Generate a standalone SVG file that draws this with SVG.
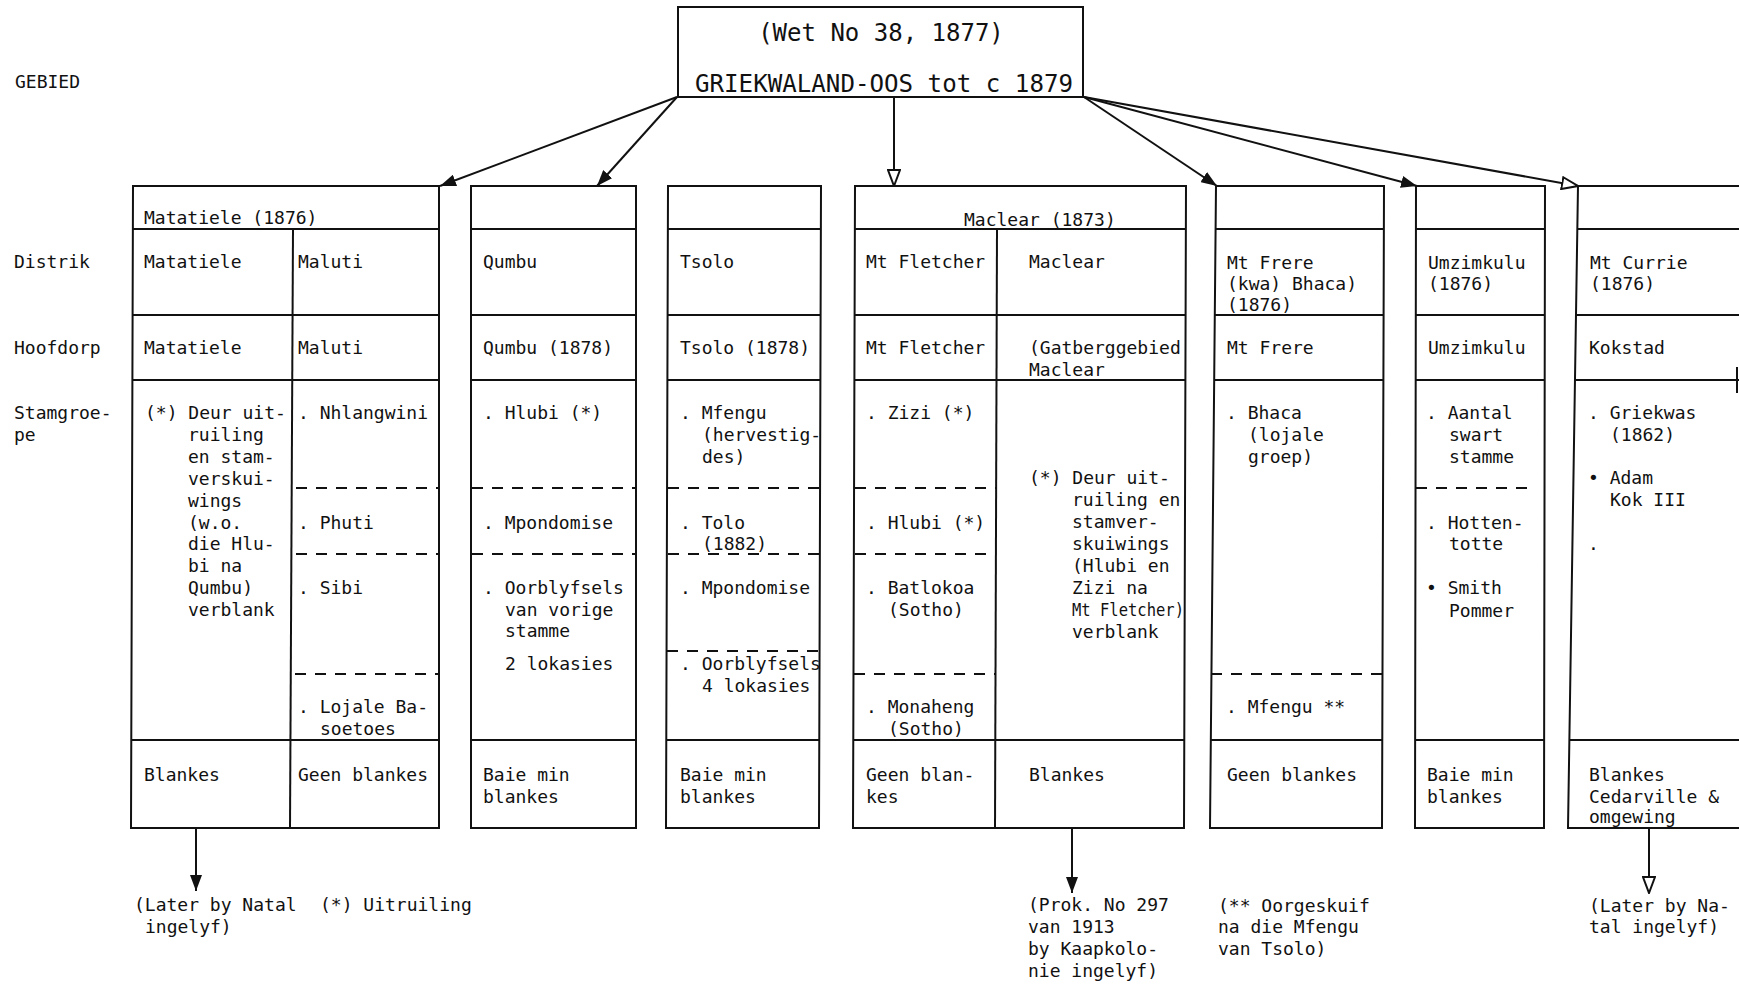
<svg xmlns="http://www.w3.org/2000/svg" width="1739" height="984" viewBox="0 0 1739 984">
<style>
  .t { font-family: "DejaVu Sans Mono", "Liberation Mono", monospace; font-size: 18px; fill: #111; }
  .big { font-size: 24px; }
  .frame { fill: none; stroke: #111; stroke-width: 2; }
  .rule { stroke: #111; stroke-width: 2; }
  .dash { stroke: #111; stroke-width: 2; stroke-dasharray: 11 9; }
  .conn { stroke: #111; stroke-width: 2; fill: none; }
  .solid { marker-end: url(#arrow-solid); }
  .open { marker-end: url(#arrow-open); }
</style>
<defs>
  <marker id="arrow-solid" viewBox="0 0 16 12" refX="16" refY="6" markerWidth="16" markerHeight="12" markerUnits="userSpaceOnUse" orient="auto">
    <path d="M0,0 L16,6 L0,12 Z" fill="#111"/>
  </marker>
  <marker id="arrow-open" viewBox="0 0 18 14" refX="17" refY="7" markerWidth="18" markerHeight="14" markerUnits="userSpaceOnUse" orient="auto">
    <path d="M1,1 L17,7 L1,13 Z" fill="#fff" stroke="#111" stroke-width="2"/>
  </marker>
</defs>
<rect width="1739" height="984" fill="#fff"/>

<!-- row captions -->
<g id="row-labels" class="t">
  <text x="15" y="88">GEBIED</text>
  <text x="14" y="268">Distrik</text>
  <text x="14" y="354">Hoofdorp</text>
  <text x="14" y="419">Stamgroe-</text>
  <text x="14" y="441">pe</text>
</g>

<!-- root area -->
<g id="node-griekwaland">
  <rect class="frame" x="678" y="7" width="405" height="90"/>
  <text class="t big" x="881" y="41" text-anchor="middle">(Wet No 38, 1877)</text>
  <text class="t big" x="695" y="92" textLength="378" lengthAdjust="spacingAndGlyphs">GRIEKWALAND-OOS tot c 1879</text>
</g>

<!-- Matatiele / Maluti -->
<g id="node-matatiele">
  <polygon class="frame" points="133,186 439,186 439,828 131,828"/>
  <line class="rule" x1="133" y1="229" x2="439" y2="229"/>
  <line class="rule" x1="133" y1="315" x2="439" y2="315"/>
  <line class="rule" x1="132" y1="380" x2="439" y2="380"/>
  <line class="rule" x1="131" y1="740" x2="439" y2="740"/>
  <line class="rule" x1="293" y1="229" x2="290" y2="828"/>
  <line class="dash" x1="296" y1="488" x2="439" y2="488"/>
  <line class="dash" x1="296" y1="554" x2="439" y2="554"/>
  <line class="dash" x1="295" y1="674" x2="439" y2="674"/>
  <g class="t">
    <text x="144" y="224">Matatiele (1876)</text>
    <text x="144" y="268">Matatiele</text>
    <text x="298" y="268">Maluti</text>
    <text x="144" y="354">Matatiele</text>
    <text x="298" y="354">Maluti</text>
    <text x="145" y="419">(*) Deur uit-</text>
    <text x="188" y="441">ruiling</text>
    <text x="188" y="463">en stam-</text>
    <text x="188" y="485">verskui-</text>
    <text x="188" y="507">wings</text>
    <text x="188" y="529">(w.o.</text>
    <text x="188" y="550">die Hlu-</text>
    <text x="188" y="572">bi na</text>
    <text x="188" y="594">Qumbu)</text>
    <text x="188" y="616">verblank</text>
    <text x="298" y="419">. Nhlangwini</text>
    <text x="298" y="529">. Phuti</text>
    <text x="298" y="594">. Sibi</text>
    <text x="298" y="713">. Lojale Ba-</text>
    <text x="320" y="735">soetoes</text>
    <text x="144" y="781">Blankes</text>
    <text x="298" y="781">Geen blankes</text>
  </g>
</g>

<!-- Qumbu -->
<g id="node-qumbu">
  <polygon class="frame" points="471,186 636,186 636,828 471,828"/>
  <line class="rule" x1="471" y1="229" x2="636" y2="229"/>
  <line class="rule" x1="471" y1="315" x2="636" y2="315"/>
  <line class="rule" x1="471" y1="380" x2="636" y2="380"/>
  <line class="rule" x1="471" y1="740" x2="636" y2="740"/>
  <line class="dash" x1="472" y1="488" x2="636" y2="488"/>
  <line class="dash" x1="472" y1="554" x2="636" y2="554"/>
  <g class="t">
    <text x="483" y="268">Qumbu</text>
    <text x="483" y="354">Qumbu (1878)</text>
    <text x="483" y="419">. Hlubi (*)</text>
    <text x="483" y="529">. Mpondomise</text>
    <text x="483" y="594">. Oorblyfsels</text>
    <text x="505" y="616">van vorige</text>
    <text x="505" y="637">stamme</text>
    <text x="505" y="670">2 lokasies</text>
    <text x="483" y="781">Baie min</text>
    <text x="483" y="803">blankes</text>
  </g>
</g>

<!-- Tsolo -->
<g id="node-tsolo">
  <polygon class="frame" points="668,186 821,186 819,828 666,828"/>
  <line class="rule" x1="668" y1="229" x2="821" y2="229"/>
  <line class="rule" x1="667" y1="315" x2="821" y2="315"/>
  <line class="rule" x1="667" y1="380" x2="820" y2="380"/>
  <line class="rule" x1="666" y1="740" x2="819" y2="740"/>
  <line class="dash" x1="668" y1="488" x2="820" y2="488"/>
  <line class="dash" x1="668" y1="554" x2="820" y2="554"/>
  <line class="dash" x1="667" y1="651" x2="820" y2="651"/>
  <g class="t">
    <text x="680" y="268">Tsolo</text>
    <text x="680" y="354">Tsolo (1878)</text>
    <text x="680" y="419">. Mfengu</text>
    <text x="702" y="441">(hervestig-</text>
    <text x="702" y="463">des)</text>
    <text x="680" y="529">. Tolo</text>
    <text x="702" y="550">(1882)</text>
    <text x="680" y="594">. Mpondomise</text>
    <text x="680" y="670">. Oorblyfsels</text>
    <text x="702" y="692">4 lokasies</text>
    <text x="680" y="781">Baie min</text>
    <text x="680" y="803">blankes</text>
  </g>
</g>

<!-- Maclear / Mt Fletcher -->
<g id="node-maclear">
  <polygon class="frame" points="855,186 1186,186 1184,828 853,828"/>
  <line class="rule" x1="855" y1="229" x2="1186" y2="229"/>
  <line class="rule" x1="854" y1="315" x2="1186" y2="315"/>
  <line class="rule" x1="854" y1="380" x2="1185" y2="380"/>
  <line class="rule" x1="853" y1="740" x2="1184" y2="740"/>
  <line class="rule" x1="997" y1="229" x2="995" y2="828"/>
  <line class="dash" x1="855" y1="488" x2="996" y2="488"/>
  <line class="dash" x1="855" y1="554" x2="996" y2="554"/>
  <line class="dash" x1="854" y1="674" x2="996" y2="674"/>
  <g class="t">
    <text x="964" y="226">Maclear (1873)</text>
    <text x="866" y="268">Mt Fletcher</text>
    <text x="1029" y="268">Maclear</text>
    <text x="866" y="354">Mt Fletcher</text>
    <text x="1029" y="354">(Gatberggebied</text>
    <text x="1029" y="376">Maclear</text>
    <text x="866" y="419">. Zizi (*)</text>
    <text x="866" y="529">. Hlubi (*)</text>
    <text x="866" y="594">. Batlokoa</text>
    <text x="888" y="616">(Sotho)</text>
    <text x="866" y="713">. Monaheng</text>
    <text x="888" y="735">(Sotho)</text>
    <text x="1029" y="484">(*) Deur uit-</text>
    <text x="1072" y="506">ruiling en</text>
    <text x="1072" y="528">stamver-</text>
    <text x="1072" y="550">skuiwings</text>
    <text x="1072" y="572">(Hlubi en</text>
    <text x="1072" y="594">Zizi na</text>
    <text x="1072" y="616" textLength="112" lengthAdjust="spacingAndGlyphs">Mt Fletcher)</text>
    <text x="1072" y="638">verblank</text>
    <text x="866" y="781">Geen blan-</text>
    <text x="866" y="803">kes</text>
    <text x="1029" y="781">Blankes</text>
  </g>
</g>

<!-- Mt Frere -->
<g id="node-mt-frere">
  <polygon class="frame" points="1216,186 1384,186 1382,828 1210,828"/>
  <line class="rule" x1="1215.6" y1="229" x2="1384" y2="229"/>
  <line class="rule" x1="1214.8" y1="315" x2="1384" y2="315"/>
  <line class="rule" x1="1214.2" y1="380" x2="1383" y2="380"/>
  <line class="rule" x1="1210.8" y1="740" x2="1382" y2="740"/>
  <line class="dash" x1="1211" y1="674" x2="1382" y2="674"/>
  <g class="t">
    <text x="1227" y="269">Mt Frere</text>
    <text x="1227" y="290">(kwa) Bhaca)</text>
    <text x="1227" y="311">(1876)</text>
    <text x="1227" y="354">Mt Frere</text>
    <text x="1226" y="419">. Bhaca</text>
    <text x="1248" y="441">(lojale</text>
    <text x="1248" y="463">groep)</text>
    <text x="1226" y="713">. Mfengu **</text>
    <text x="1227" y="781">Geen blankes</text>
  </g>
</g>

<!-- Umzimkulu -->
<g id="node-umzimkulu">
  <polygon class="frame" points="1416,186 1545,186 1544,828 1415,828"/>
  <line class="rule" x1="1416" y1="229" x2="1545" y2="229"/>
  <line class="rule" x1="1416" y1="315" x2="1545" y2="315"/>
  <line class="rule" x1="1416" y1="380" x2="1545" y2="380"/>
  <line class="rule" x1="1415" y1="740" x2="1544" y2="740"/>
  <line class="dash" x1="1416" y1="488" x2="1536" y2="488"/>
  <g class="t">
    <text x="1428" y="269">Umzimkulu</text>
    <text x="1428" y="290">(1876)</text>
    <text x="1428" y="354">Umzimkulu</text>
    <text x="1426" y="419">. Aantal</text>
    <text x="1449" y="441">swart</text>
    <text x="1449" y="463">stamme</text>
    <text x="1426" y="529">. Hotten-</text>
    <text x="1449" y="550">totte</text>
    <text x="1426" y="594">• Smith</text>
    <text x="1449" y="617">Pommer</text>
    <text x="1427" y="781">Baie min</text>
    <text x="1427" y="803">blankes</text>
  </g>
</g>

<!-- Mt Currie (runs off the right edge) -->
<g id="node-mt-currie">
  <path class="frame" d="M1745,186 H1578 L1568,828 H1745"/>
  <line class="rule" x1="1577.3" y1="229" x2="1745" y2="229"/>
  <line class="rule" x1="1576" y1="315" x2="1745" y2="315"/>
  <line class="rule" x1="1575" y1="380" x2="1745" y2="380"/>
  <line class="rule" x1="1569.4" y1="740" x2="1745" y2="740"/>
  <line class="rule" x1="1737" y1="367" x2="1737" y2="393"/>
  <g class="t">
    <text x="1590" y="269">Mt Currie</text>
    <text x="1590" y="290">(1876)</text>
    <text x="1589" y="354">Kokstad</text>
    <text x="1588" y="419">. Griekwas</text>
    <text x="1610" y="441">(1862)</text>
    <text x="1588" y="484">• Adam</text>
    <text x="1610" y="506">Kok III</text>
    <text x="1588" y="550">.</text>
    <text x="1589" y="781">Blankes</text>
    <text x="1589" y="803">Cedarville &amp;</text>
    <text x="1589" y="823">omgewing</text>
  </g>
</g>

<!-- connectors -->
<g id="connectors" class="conn">
  <line class="solid" x1="677" y1="97" x2="440" y2="186"/>
  <line class="solid" x1="677" y1="97" x2="597" y2="186"/>
  <line class="open" x1="894" y1="97" x2="894" y2="186"/>
  <line class="solid" x1="1084" y1="97" x2="1217" y2="186"/>
  <line class="solid" x1="1084" y1="97" x2="1417" y2="186"/>
  <line class="open" x1="1084" y1="97" x2="1578" y2="186"/>
  <line class="solid" x1="196" y1="828" x2="196" y2="891"/>
  <line class="solid" x1="1072" y1="828" x2="1072" y2="893"/>
  <line class="open" x1="1649" y1="828" x2="1649" y2="893"/>
</g>

<!-- footnotes under the table -->
<g id="notes" class="t">
  <text x="134" y="911">(Later by Natal</text>
  <text x="145" y="933">ingelyf)</text>
  <text x="320" y="911">(*) Uitruiling</text>
  <text x="1028" y="911">(Prok. No 297</text>
  <text x="1028" y="933">van 1913</text>
  <text x="1028" y="955">by Kaapkolo-</text>
  <text x="1028" y="977">nie ingelyf)</text>
  <text x="1218" y="912">(** Oorgeskuif</text>
  <text x="1218" y="933">na die Mfengu</text>
  <text x="1218" y="955">van Tsolo)</text>
  <text x="1589" y="912">(Later by Na-</text>
  <text x="1589" y="933">tal ingelyf)</text>
</g>
</svg>
